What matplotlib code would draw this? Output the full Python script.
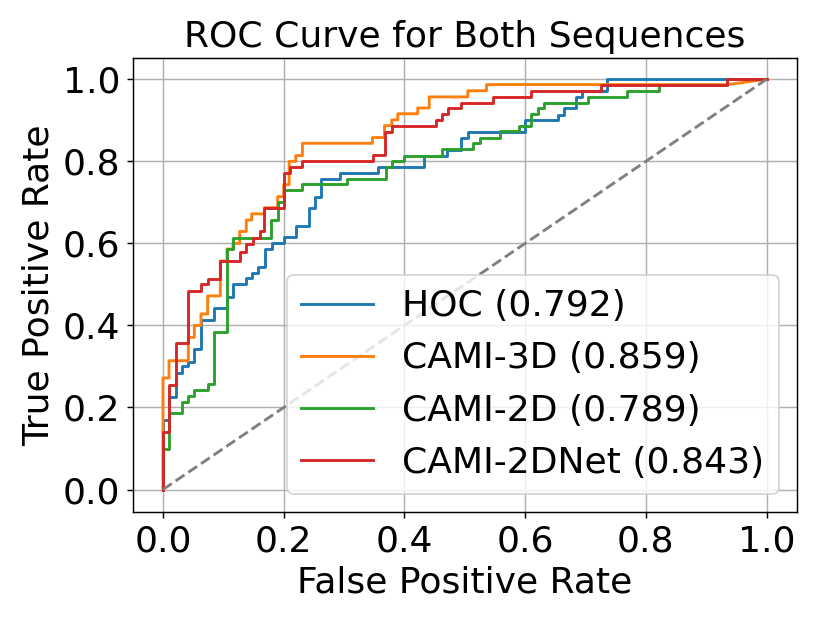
import numpy as np
import matplotlib
matplotlib.use("Agg")
import matplotlib.pyplot as plt

# (fpr, tpr) at the top of each step of the ROC curves
hoc_fpr = [0, 0, 0.010, 0.021, 0.032, 0.042, 0.052, 0.063, 0.084, 0.106,
           0.116, 0.138, 0.147, 0.158, 0.169, 0.180, 0.200, 0.221, 0.242, 0.252,
           0.262, 0.294, 0.357, 0.432, 0.470, 0.494, 0.505, 0.599, 0.655, 0.665,
           0.685, 0.694, 0.736, 1.0]
hoc_tpr = [0, 0.169, 0.226, 0.283, 0.300, 0.312, 0.343, 0.413, 0.442, 0.470,
           0.500, 0.515, 0.529, 0.542, 0.586, 0.600, 0.615, 0.643, 0.686, 0.714,
           0.757, 0.771, 0.786, 0.814, 0.828, 0.857, 0.871, 0.900, 0.913, 0.930,
           0.958, 0.972, 1.0, 1.0]

cami3d_fpr = [0, 0, 0.010, 0.042, 0.052, 0.063, 0.074, 0.095, 0.106, 0.116,
              0.127, 0.138, 0.147, 0.168, 0.190, 0.200, 0.209, 0.220, 0.231, 0.347,
              0.367, 0.379, 0.389, 0.422, 0.441, 0.505, 0.536, 0.935, 1.0]
cami3d_tpr = [0, 0.272, 0.314, 0.371, 0.400, 0.428, 0.472, 0.557, 0.586, 0.600,
              0.629, 0.657, 0.672, 0.687, 0.714, 0.743, 0.800, 0.814, 0.844, 0.858,
              0.887, 0.901, 0.916, 0.930, 0.957, 0.972, 0.987, 0.987, 1.0]

cami2d_fpr = [0, 0, 0.010, 0.032, 0.042, 0.052, 0.074, 0.084, 0.106, 0.116,
              0.179, 0.190, 0.200, 0.231, 0.305, 0.369, 0.379, 0.400, 0.462, 0.514,
              0.525, 0.558, 0.590, 0.610, 0.621, 0.631, 0.704, 0.768, 0.821, 0.935,
              1.0]
cami2d_tpr = [0, 0.100, 0.186, 0.214, 0.229, 0.243, 0.257, 0.385, 0.586, 0.613,
              0.657, 0.700, 0.731, 0.744, 0.757, 0.786, 0.800, 0.814, 0.830, 0.844,
              0.858, 0.873, 0.887, 0.915, 0.930, 0.943, 0.958, 0.972, 0.985, 1.0,
              1.0]

cami2dnet_fpr = [0, 0, 0.010, 0.021, 0.042, 0.063, 0.074, 0.095, 0.127, 0.138,
                 0.149, 0.160, 0.168, 0.200, 0.211, 0.231, 0.348, 0.367, 0.379, 0.452,
                 0.462, 0.472, 0.494, 0.546, 0.610, 0.725, 0.935, 1.0]
cami2dnet_tpr = [0, 0.141, 0.255, 0.357, 0.485, 0.500, 0.513, 0.557, 0.578, 0.599,
                 0.613, 0.629, 0.687, 0.771, 0.786, 0.801, 0.816, 0.871, 0.887, 0.900,
                 0.916, 0.930, 0.943, 0.958, 0.972, 0.987, 1.0, 1.0]

labels = ["HOC (0.792)", "CAMI-3D (0.859)", "CAMI-2D (0.789)", "CAMI-2DNet (0.843)"]


def staircase(fpr, tpr):
    # horizontal then vertical between steps; last point joined directly (like roc_curve)
    xs, ys = [fpr[0]], [tpr[0]]
    for i in range(1, len(fpr) - 1):
        xs += [fpr[i], fpr[i]]
        ys += [tpr[i - 1], tpr[i]]
    xs.append(fpr[-1]); ys.append(tpr[-1])
    return np.array(xs), np.array(ys)


curves = [(hoc_fpr, hoc_tpr), (cami3d_fpr, cami3d_tpr),
          (cami2d_fpr, cami2d_tpr), (cami2dnet_fpr, cami2dnet_tpr)]

fig, ax = plt.subplots(figsize=(830 / 130, 623 / 130), dpi=130)
fig.subplots_adjust(left=0.160, right=0.960, top=0.907, bottom=0.178)

for (f, t), lab in zip(curves, labels):
    x, y = staircase(f, t)
    ax.plot(x, y, label=lab, lw=1.6)
ax.plot([0, 1], [0, 1], "--", color="gray", lw=1.6)

ax.set_xlim(-0.05, 1.05); ax.set_ylim(-0.055, 1.052)
ax.set_xlabel("False Positive Rate", fontsize=20)
ax.set_ylabel("True Positive Rate", fontsize=20)
ax.set_title("ROC Curve for Both Sequences", fontsize=20)
ax.tick_params(labelsize=20)
ax.grid(True)
ax.legend(loc="lower right", fontsize=20)

fig.savefig("out.png", dpi=130)
